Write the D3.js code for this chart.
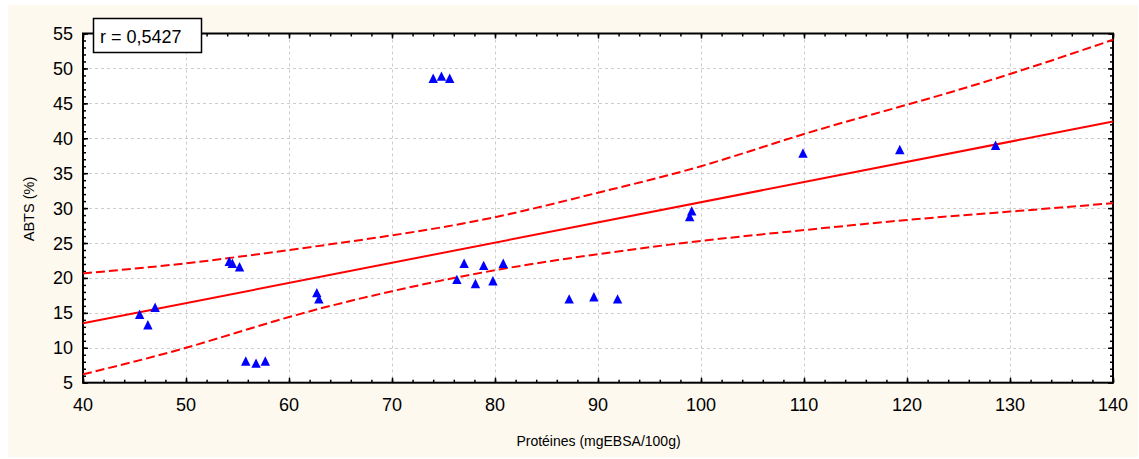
<!DOCTYPE html>
<html>
<head>
<meta charset="utf-8">
<script src="https://cdn.jsdelivr.net/npm/d3@7"></script>
<style>
  body { margin: 0; background: #fff; }
  text { font-family: "Liberation Sans", Arial, sans-serif; fill: #000; }
</style>
</head>
<body>
<svg id="chart" width="1139" height="459"></svg>
<script>
'use strict';

// measured points (Protéines, ABTS)
var protein = [45.5, 46.3, 47.0, 54.2, 54.5, 55.2, 55.8, 56.8, 57.7, 62.7, 62.9,
               74.0, 74.8, 75.6, 76.3, 77.0, 78.1, 78.9, 79.8, 80.8,
               87.2, 89.6, 91.9, 98.9, 99.1, 109.9, 119.3, 128.6];
var abts = [14.8, 13.3, 15.8, 22.4, 22.1, 21.6, 8.1, 7.8, 8.1, 17.9, 17.0,
            48.6, 48.9, 48.6, 19.8, 22.1, 19.2, 21.8, 19.6, 22.1,
            17.0, 17.3, 17.0, 28.8, 29.6, 37.9, 38.4, 39.0];

// fitted line and 95% band, read at each x tick
var fitX = [40, 140];
var fitY = [13.5, 42.4];
var bandX = [40, 50, 60, 70, 80, 90, 100, 110, 120, 130, 140];
var bandUpper = [20.65, 22.1, 24.0, 26.1, 28.7, 32.2, 36.0, 40.6, 44.8, 49.2, 54.1];
var bandLower = [6.2, 10.0, 14.4, 18.1, 21.1, 23.4, 25.3, 26.85, 28.3, 29.5, 30.7];

var xTicks = [40, 50, 60, 70, 80, 90, 100, 110, 120, 130, 140];
var yTicks = [5, 10, 15, 20, 25, 30, 35, 40, 45, 50, 55];
var rLabel = 'r = 0,5427';
var xTitle = 'Protéines (mgEBSA/100g)';
var yTitle = 'ABTS (%)';

(function () {
  var pLeft = 83, pTop = 33.5, pRight = 1113, pBottom = 382.7;

  var svg = d3.select('#chart');

  svg.append('rect')
    .attr('x', 8).attr('y', 5)
    .attr('width', 1130).attr('height', 452)
    .attr('fill', '#fdf9ef');

  var x = d3.scaleLinear().domain([40, 140]).range([pLeft, pRight]);
  var y = d3.scaleLinear().domain([5, 55]).range([pBottom, pTop]);

  svg.append('rect')
    .attr('x', pLeft).attr('y', pTop)
    .attr('width', pRight - pLeft).attr('height', pBottom - pTop)
    .attr('fill', '#fff');

  // grid
  var grid = svg.append('g')
    .attr('stroke', '#cdcdcd')
    .attr('stroke-width', 1)
    .attr('stroke-dasharray', '3,3');

  grid.selectAll('.gx').data(xTicks.slice(1, -1)).enter().append('line')
    .attr('x1', function (d) { return Math.round(x(d)) + 0.5; })
    .attr('x2', function (d) { return Math.round(x(d)) + 0.5; })
    .attr('y1', pTop).attr('y2', pBottom);

  grid.selectAll('.gy').data(yTicks.slice(1, -1)).enter().append('line')
    .attr('y1', function (d) { return Math.round(y(d)) + 0.5; })
    .attr('y2', function (d) { return Math.round(y(d)) + 0.5; })
    .attr('x1', pLeft).attr('x2', pRight);

  // inward ticks on all four sides
  var minorX = d3.range(40, 141, 2);
  var minorY = d3.range(5, 56, 1);

  function tickAxis(axis, scale, values, size) {
    var g = svg.append('g')
      .call(axis(scale).tickValues(values).tickSize(size).tickFormat(''));
    g.select('.domain').remove();
    g.selectAll('line').attr('stroke', '#000').attr('stroke-width', 1.5);
    return g;
  }

  [[d3.axisTop, pBottom], [d3.axisBottom, pTop]].forEach(function (a) {
    tickAxis(a[0], x, minorX, 3).attr('transform', 'translate(0,' + a[1] + ')');
    tickAxis(a[0], x, xTicks, 5).attr('transform', 'translate(0,' + a[1] + ')');
  });
  [[d3.axisRight, pLeft], [d3.axisLeft, pRight]].forEach(function (a) {
    tickAxis(a[0], y, minorY, 3).attr('transform', 'translate(' + a[1] + ',0)');
    tickAxis(a[0], y, yTicks, 5).attr('transform', 'translate(' + a[1] + ',0)');
  });

  svg.append('rect')
    .attr('x', pLeft).attr('y', pTop)
    .attr('width', pRight - pLeft).attr('height', pBottom - pTop)
    .attr('fill', 'none')
    .attr('stroke', '#000')
    .attr('stroke-width', 2);

  // tick labels
  svg.selectAll('.xl').data(xTicks).enter().append('text')
    .attr('x', function (d) { return x(d); })
    .attr('y', pBottom + 28)
    .attr('text-anchor', 'middle')
    .attr('font-size', 18)
    .text(function (d) { return d; });

  svg.selectAll('.yl').data(yTicks).enter().append('text')
    .attr('x', pLeft - 10)
    .attr('y', function (d) { return y(d); })
    .attr('dy', '0.36em')
    .attr('text-anchor', 'end')
    .attr('font-size', 18)
    .text(function (d) { return d; });

  svg.append('text')
    .attr('x', (pLeft + pRight) / 2 + 0.5)
    .attr('y', 446)
    .attr('text-anchor', 'middle')
    .attr('font-size', 14)
    .text(xTitle);

  svg.append('text')
    .attr('transform', 'translate(34,209) rotate(-90)')
    .attr('text-anchor', 'middle')
    .attr('font-size', 14.5)
    .text(yTitle);

  // band and fit
  var plot = svg.append('g');

  var bandLine = d3.line()
    .x(function (d) { return x(d[0]); })
    .y(function (d) { return y(d[1]); })
    .curve(d3.curveNatural);

  [bandUpper, bandLower].forEach(function (band) {
    plot.append('path')
      .attr('d', bandLine(d3.zip(bandX, band)))
      .attr('fill', 'none')
      .attr('stroke', '#ff0000')
      .attr('stroke-width', 2)
      .attr('stroke-dasharray', '9,4');
  });

  plot.append('path')
    .attr('d', d3.line()(d3.zip(fitX.map(x), fitY.map(y))))
    .attr('fill', 'none')
    .attr('stroke', '#ff0000')
    .attr('stroke-width', 2);

  // triangles
  plot.selectAll('.pt').data(d3.zip(protein, abts)).enter().append('path')
    .attr('d', 'M0,-4.7L4.7,4.7L-4.7,4.7Z')
    .attr('transform', function (d) { return 'translate(' + x(d[0]) + ',' + y(d[1]) + ')'; })
    .attr('fill', '#0000ff');

  // correlation box
  svg.append('rect')
    .attr('x', 93.5).attr('y', 18.5)
    .attr('width', 108).attr('height', 34)
    .attr('fill', '#fff')
    .attr('stroke', '#000')
    .attr('stroke-width', 1.5);

  svg.append('text')
    .attr('x', 100)
    .attr('y', 42.5)
    .attr('font-size', 18)
    .text(rLabel);
})();
</script>
</body>
</html>
